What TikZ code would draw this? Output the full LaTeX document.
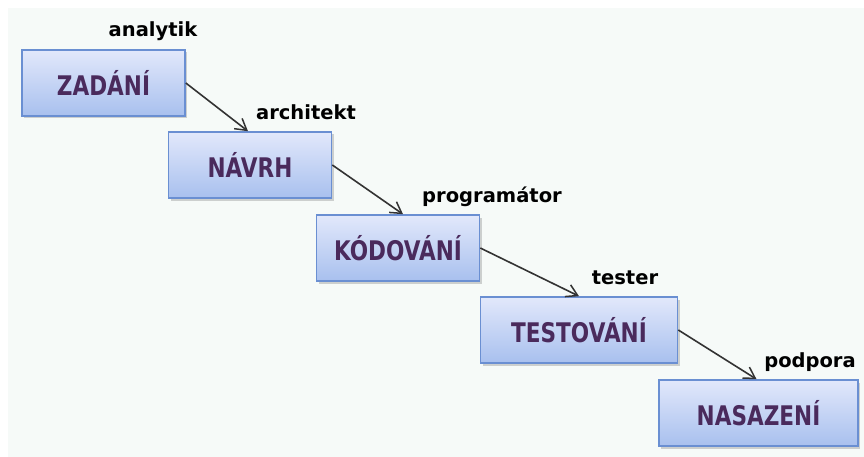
\documentclass[tikz,border=0pt]{standalone}
\usepackage{fontspec}
\setmainfont{DejaVu Sans}
\usepackage{xcolor}
\usepackage{tikz}
\usetikzlibrary{arrows.meta,shadows,positioning}

\definecolor{bgmint}{HTML}{F6FAF8}
\definecolor{boxline}{HTML}{6A8FD2}
\definecolor{boxtop}{HTML}{E2E8FB}
\definecolor{boxbot}{HTML}{A8C0EE}
\definecolor{phasetext}{HTML}{4A2A5C}

\tikzset{
  phase/.style={draw=boxline,line width=1.6pt,top color=boxtop,bottom color=boxbot,
    minimum width=163pt,minimum height=66pt,inner sep=0pt,
    drop shadow={shadow xshift=2pt,shadow yshift=-2.5pt,opacity=0.35},
    font=\bfseries\fontsize{27}{27}\selectfont,text=phasetext},
  role/.style={font=\bfseries\fontsize{19.5}{20}\selectfont,text=black,inner sep=0pt,anchor=base},
  flow/.style={-{Straight Barb[length=11pt,width=13pt,line width=1.5pt]},line width=1.6pt,draw=black!80}
}

\begin{document}
\begin{tikzpicture}[x=1pt,y=-1pt]
\useasboundingbox (0,0) rectangle (864,457);
\fill[white] (0,0) rectangle (864,457);
\fill[bgmint] (8,8) rectangle (864,457);
% faze
\node[phase] (zadani) at (103.5,83) {\scalebox{0.8}[1]{ZADÁNÍ}};
\node[phase] (navrh) at (250,165) {\scalebox{0.8}[1]{NÁVRH}};
\node[phase] (kodovani) at (398,248) {\scalebox{0.8}[1]{KÓDOVÁNÍ}};
\node[phase,minimum width=197pt] (testovani) at (579,330) {\scalebox{0.8}[1]{TESTOVÁNÍ}};
\node[phase,minimum width=199pt] (nasazeni) at (758.5,413) {\scalebox{0.8}[1]{NASAZENÍ}};
% role
\node[role] (analytik) at (153,37) {analytik};
\node[role] (architekt) at (306,120) {architekt};
\node[role] (programator) at (492,202) {programátor};
\node[role] (tester) at (625,284) {tester};
\node[role] (podpora) at (810,367) {podpora};
% sipky
\draw[flow] (zadani.east) -- ([xshift=-2pt]navrh.north);
\draw[flow] (navrh.east) -- ([xshift=5pt]kodovani.north);
\draw[flow] (kodovani.east) -- (testovani.north);
\draw[flow] (testovani.east) -- ([xshift=-2pt]nasazeni.north);
\end{tikzpicture}
\end{document}
